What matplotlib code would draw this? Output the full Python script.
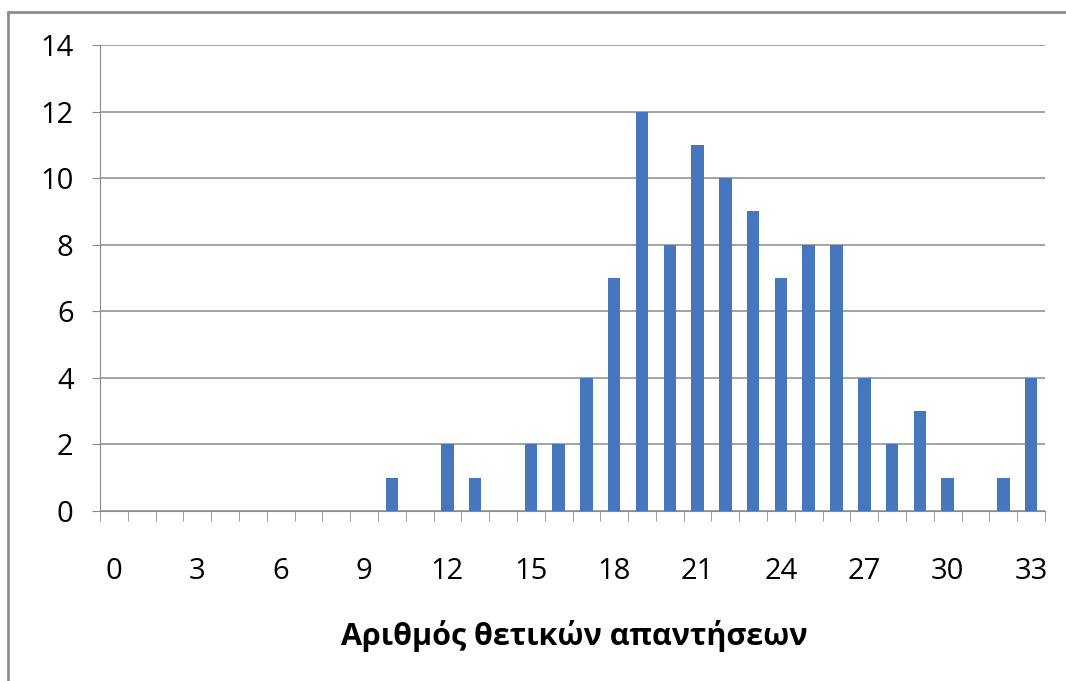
import matplotlib
matplotlib.use("Agg")
import matplotlib.pyplot as plt
from matplotlib.patches import Rectangle

#=================
#data
#=================
positive_answers = list(range(0, 34))
counts = [0, 0, 0, 0, 0, 0, 0, 0, 0, 0,
          1, 0, 2, 1, 0, 2, 2, 4, 7, 12,
          8, 11, 10, 9, 7, 8, 8, 4, 2, 3,
          1, 0, 1, 4]
x_tick_values = list(range(0, 34, 3))
y_tick_values = [0, 2, 4, 6, 8, 10, 12, 14]
x_label = "Αριθμός θετικών απαντήσεων"

#=================
#plot
#=================
plt.rcParams["font.family"] = ["Open Sans", "DejaVu Sans"]

fig = plt.figure(figsize=(10.66, 6.81), dpi=100)
ax = fig.add_axes([100 / 1066, 1 - 511 / 681, 945 / 1066, 466 / 681])

ax.bar(positive_answers, counts, width=0.45, color="#4677be", zorder=3)

ax.set_xlim(-0.5, 33.5)
ax.set_ylim(0, 14)
ax.set_yticks(y_tick_values)
ax.set_xticks(x_tick_values)
ax.set_xticks([i - 0.5 for i in range(0, 35)], minor=True)

ax.yaxis.grid(True, color="#8a8a8a", linewidth=1.1, zorder=0)

for side in ["top", "right"]:
    ax.spines[side].set_visible(False)
ax.spines["left"].set_color("#8a8a8a")
ax.spines["bottom"].set_color("#8a8a8a")

ax.tick_params(axis="y", length=6, color="#8a8a8a", pad=13, labelsize=21)
ax.tick_params(axis="x", which="major", length=0, pad=33, labelsize=21)
ax.tick_params(axis="x", which="minor", length=7, color="#8a8a8a")

fig.text(574 / 1066, 1 - 636 / 681, x_label, ha="center", va="center",
         fontsize=22, fontweight="bold")

# outer frame of the chart area
fig.patches.append(Rectangle((8 / 1066, -0.1), 1.2, 1 - 12 / 681 + 0.1,
                             transform=fig.transFigure, fill=False,
                             edgecolor="#8c8c8c", linewidth=2))

plt.savefig("out.png", dpi=100)
plt.close()
